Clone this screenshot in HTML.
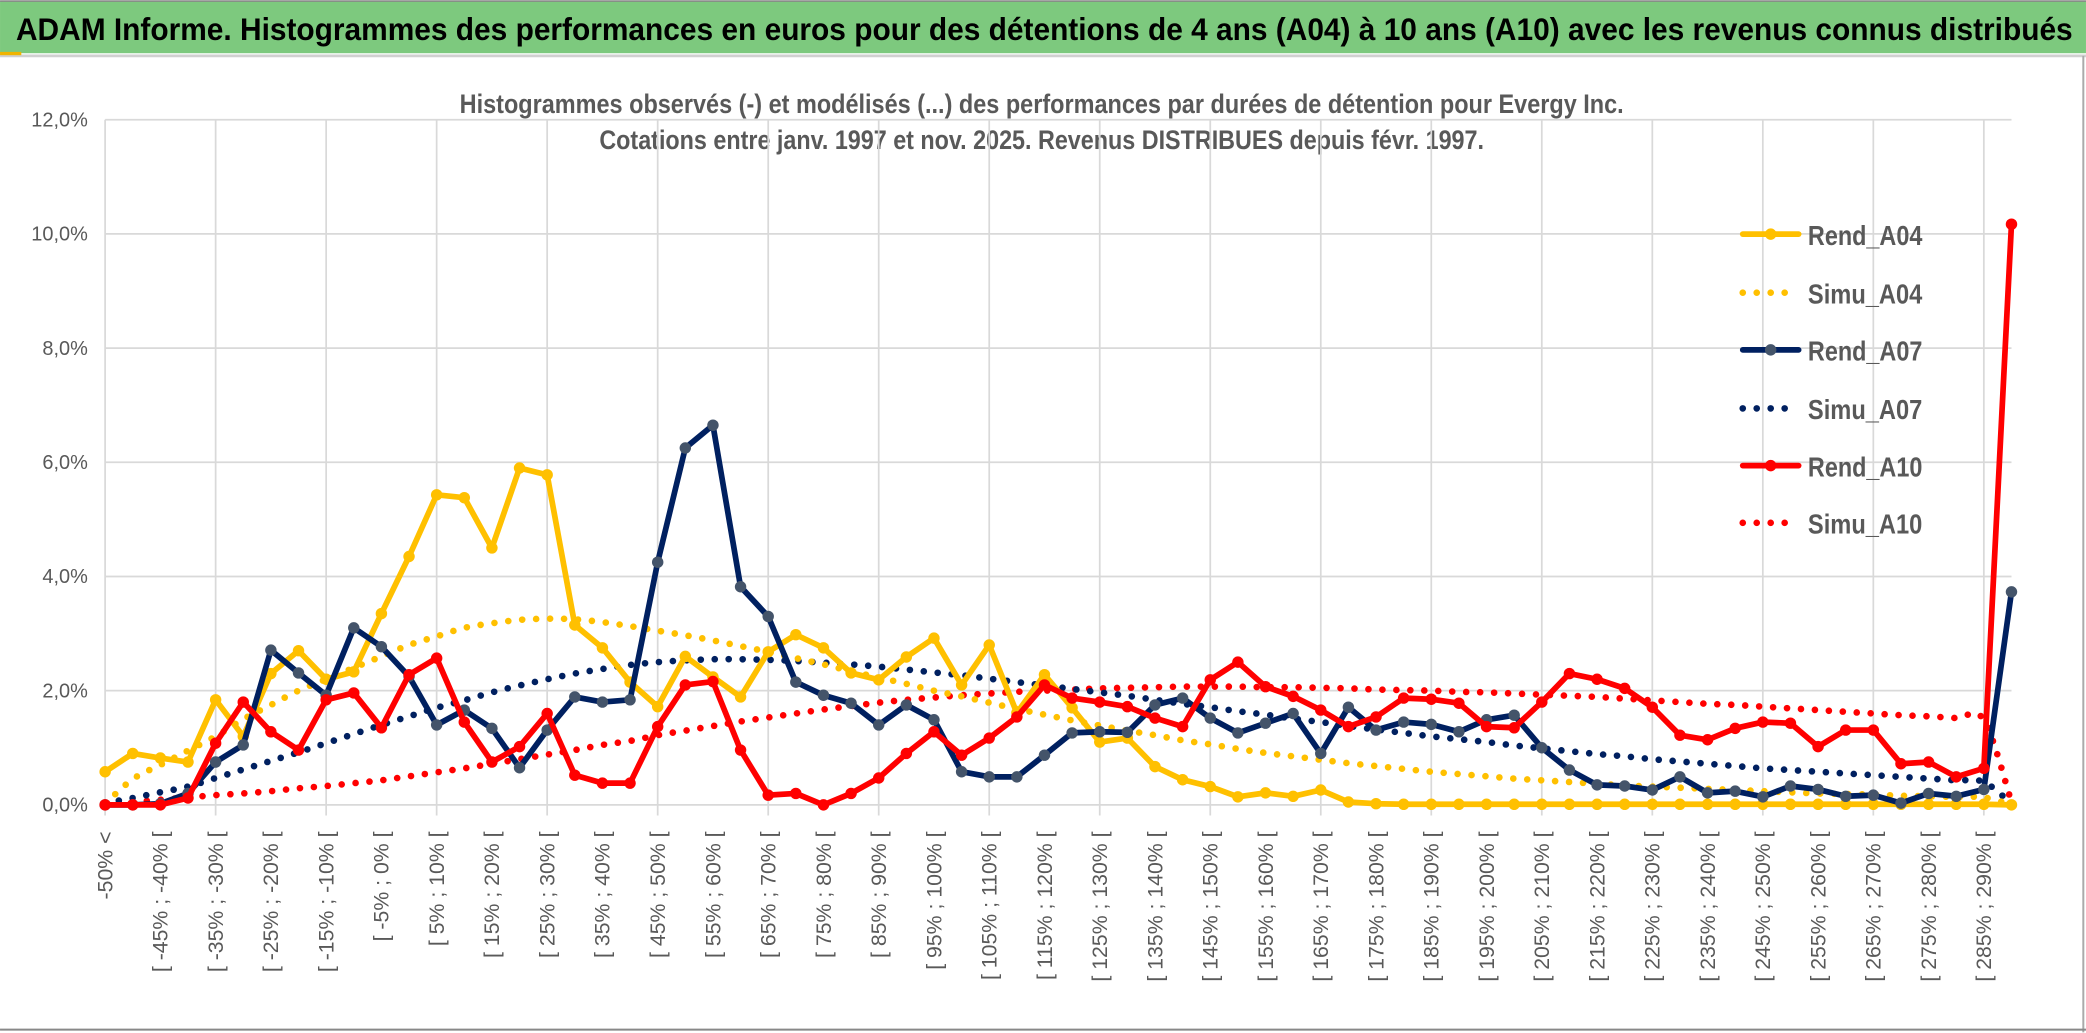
<!DOCTYPE html>
<html><head><meta charset="utf-8">
<style>
html,body{margin:0;padding:0;background:#fff;width:2086px;height:1033px;overflow:hidden}
svg{display:block}
text{font-family:"Liberation Sans",sans-serif}
</style></head>
<body>
<svg id="chart" width="2086" height="1033" viewBox="0 0 1568 776.5" xmlns="http://www.w3.org/2000/svg">
  <rect x="0" y="0" width="1568" height="776.5" fill="#fff"/>
  <rect x="0" y="1" width="1568" height="39" fill="#7dc97e"/>
  <line x1="0" y1="0.8" x2="1568" y2="0.8" stroke="#888" stroke-width="1.2"/>
  <line x1="0" y1="42" x2="1568" y2="42" stroke="#d0d0d0" stroke-width="2"/>
  <rect x="0" y="39" width="16" height="2.5" fill="#f0b400"/>
  <text x="12" y="30" font-size="24" font-weight="bold" fill="#000" textLength="1546" lengthAdjust="spacingAndGlyphs">ADAM Informe. Histogrammes des performances en euros pour des détentions de 4 ans (A04) à 10 ans (A10) avec les revenus connus distribués</text>
  <line x1="1566" y1="42" x2="1566" y2="776" stroke="#aaa" stroke-width="1.5"/>
  <line x1="0" y1="774" x2="1568" y2="774" stroke="#888" stroke-width="1.5"/>
  <text x="783" y="85" font-size="20" font-weight="bold" fill="#595959" text-anchor="middle" textLength="875" lengthAdjust="spacingAndGlyphs">Histogrammes observés (-) et modélisés (...) des performances par durées de détention pour Evergy Inc.</text>
  <text x="783" y="112" font-size="20" font-weight="bold" fill="#595959" text-anchor="middle" textLength="665" lengthAdjust="spacingAndGlyphs">Cotations entre janv. 1997 et nov. 2025. Revenus DISTRIBUES depuis févr. 1997.</text>
  <g id="grid"></g>
  <g id="yaxis"></g>
  <g id="xaxis"></g>
  <g id="series"></g>
  <g id="legend"></g>
</svg>
<script>
const categories = ["-50% <"];
for (let a = -50; a < 295; a += 5) categories.push("[ " + a + "% ; " + (a + 5) + "% [");
const yTicks = [0, 2, 4, 6, 8, 10, 12];
const yTickLabels = ["0,0%", "2,0%", "4,0%", "6,0%", "8,0%", "10,0%", "12,0%"];

const rendA04 = [0.58,0.9,0.82,0.75,1.84,1.2,2.3,2.7,2.2,2.33,3.35,4.35,5.43,5.38,4.5,5.9,5.78,3.15,2.75,2.15,1.72,2.6,2.24,1.89,2.68,2.98,2.75,2.31,2.19,2.59,2.92,2.1,2.8,1.61,2.28,1.7,1.1,1.17,0.67,0.44,0.32,0.14,0.21,0.15,0.26,0.05,0.02,0.01,0.01,0.01,0.01,0.01,0.01,0.01,0.01,0.01,0.01,0.01,0.01,0.01,0.01,0.01,0.01,0.01,0.01,0.01,0.01,0.01,0.01,0.0];
const simuA04 = [0.02,0.45,0.7,0.95,1.2,1.5,1.75,2.0,2.2,2.4,2.6,2.8,2.95,3.1,3.18,3.24,3.26,3.25,3.2,3.13,3.05,2.97,2.88,2.78,2.68,2.57,2.46,2.34,2.23,2.12,2.0,1.9,1.79,1.68,1.58,1.48,1.39,1.3,1.22,1.13,1.06,0.98,0.91,0.85,0.79,0.73,0.68,0.63,0.58,0.54,0.5,0.46,0.43,0.4,0.37,0.34,0.32,0.3,0.28,0.26,0.24,0.22,0.2,0.19,0.18,0.16,0.15,0.14,0.13,0.0];
const rendA07 = [0,0,0.02,0.2,0.75,1.05,2.71,2.31,1.92,3.1,2.77,2.25,1.4,1.66,1.34,0.65,1.31,1.89,1.8,1.84,4.25,6.25,6.65,3.82,3.3,2.15,1.92,1.78,1.4,1.75,1.49,0.58,0.49,0.49,0.87,1.26,1.28,1.27,1.75,1.87,1.52,1.26,1.43,1.6,0.9,1.71,1.31,1.45,1.41,1.28,1.49,1.57,1.0,0.61,0.35,0.33,0.26,0.49,0.21,0.24,0.14,0.33,0.27,0.15,0.17,0.03,0.2,0.15,0.27,3.73];
const simuA07 = [0.03,0.12,0.22,0.32,0.47,0.62,0.77,0.92,1.08,1.24,1.4,1.55,1.7,1.83,1.97,2.09,2.2,2.3,2.38,2.45,2.5,2.53,2.55,2.55,2.54,2.52,2.49,2.46,2.42,2.37,2.32,2.27,2.21,2.15,2.09,2.03,1.97,1.91,1.84,1.77,1.71,1.64,1.58,1.51,1.45,1.38,1.32,1.26,1.2,1.15,1.1,1.04,0.99,0.94,0.89,0.85,0.8,0.76,0.72,0.68,0.64,0.61,0.58,0.55,0.52,0.49,0.46,0.43,0.4,0.02];
const rendA10 = [0,0,0,0.12,1.08,1.8,1.28,0.96,1.84,1.96,1.35,2.28,2.57,1.45,0.75,1.02,1.6,0.52,0.38,0.38,1.37,2.1,2.16,0.96,0.17,0.2,0.0,0.2,0.47,0.9,1.28,0.87,1.17,1.54,2.1,1.87,1.8,1.72,1.52,1.37,2.19,2.5,2.07,1.9,1.66,1.37,1.54,1.87,1.85,1.78,1.37,1.35,1.8,2.3,2.2,2.04,1.71,1.22,1.14,1.34,1.45,1.43,1.02,1.31,1.31,0.72,0.75,0.49,0.64,10.17];
const simuA10 = [0.0,0.05,0.09,0.13,0.17,0.2,0.24,0.29,0.33,0.38,0.43,0.5,0.57,0.64,0.72,0.8,0.88,0.96,1.05,1.12,1.22,1.3,1.38,1.46,1.53,1.6,1.67,1.73,1.79,1.84,1.88,1.92,1.95,1.98,2.0,2.02,2.04,2.05,2.06,2.07,2.07,2.07,2.06,2.06,2.05,2.04,2.02,2.01,2.0,1.98,1.97,1.95,1.93,1.91,1.89,1.86,1.83,1.8,1.77,1.75,1.72,1.69,1.66,1.63,1.6,1.57,1.55,1.52,1.49,0.05];

const seriesNames = ["Rend_A04","Simu_A04","Rend_A07","Simu_A07","Rend_A10","Simu_A10"];

const NS = "http://www.w3.org/2000/svg";
const X0 = 79, X1 = 1512, Y0 = 605, Y1 = 90, YMAX = 12;
function xPos(i){ return X0 + (X1 - X0) * i / (categories.length - 1); }
function yPos(v){ return Y0 - (Y0 - Y1) * v / YMAX; }
function mk(tag, attrs, parent){
  const e = document.createElementNS(NS, tag);
  for (const k in attrs) e.setAttribute(k, attrs[k]);
  parent.appendChild(e); return e;
}
const grid = document.getElementById("grid");
const yaxis = document.getElementById("yaxis");
const xaxis = document.getElementById("xaxis");
const series = document.getElementById("series");
const legend = document.getElementById("legend");

yTicks.forEach((t, k) => {
  const l = mk("line", {x1: X0, x2: X1, y1: yPos(t), y2: yPos(t), stroke: "#d9d9d9", "stroke-width": 1.3}, grid);
  
  
  const tx = mk("text", {x: 66, y: yPos(t) + 5, "font-size": 15, fill: "#595959", "text-anchor": "end"}, yaxis);
  tx.textContent = yTickLabels[k];
  
  
});
for (let i = 0; i < categories.length; i += 4) {
  const l = mk("line", {x1: xPos(i), x2: xPos(i), y1: Y1, y2: Y0 + 8, stroke: "#d9d9d9", "stroke-width": 1.3}, grid);
  
  
}
categories.forEach((c, i) => {
  if (i !== 0 && i % 2 === 1) return;
  const x = xPos(i) + 5.5, y = 625;
  const tx = mk("text", {x: x, y: y, "font-size": 16, fill: "#595959", "text-anchor": "end", transform: "rotate(-90 " + x + " " + y + ")"}, xaxis);
  tx.textContent = c;
  
  
});

function pathD(arr){ return arr.map((v, i) => (i ? "L" : "M") + xPos(i).toFixed(2) + " " + yPos(v).toFixed(2)).join(" "); }
function smoothD(arr){
  const p = arr.map((v, i) => [xPos(i), yPos(v)]);
  let d = "M" + p[0][0] + " " + p[0][1];
  for (let i = 0; i < p.length - 1; i++) {
    const p0 = p[Math.max(0, i - 1)], p1 = p[i], p2 = p[i + 1], p3 = p[Math.min(p.length - 1, i + 2)];
    const c1 = [p1[0] + (p2[0] - p0[0]) / 6, p1[1] + (p2[1] - p0[1]) / 6];
    const c2 = [p2[0] - (p3[0] - p1[0]) / 6, p2[1] - (p3[1] - p1[1]) / 6];
    d += " C" + c1[0].toFixed(2) + " " + c1[1].toFixed(2) + " " + c2[0].toFixed(2) + " " + c2[1].toFixed(2) + " " + p2[0].toFixed(2) + " " + p2[1].toFixed(2);
  }
  return d;
}
function drawSimu(arr, color, name){
  const p = mk("path", {d: smoothD(arr), fill: "none", stroke: color, "stroke-width": 5, "stroke-linecap": "round", "stroke-dasharray": "0 10.5"}, series);
  
  
}
function drawRend(arr, color, mcolor, name){
  const p = mk("path", {d: pathD(arr), fill: "none", stroke: color, "stroke-width": 4.3, "stroke-linejoin": "round"}, series);
  
  
  arr.forEach((v, i) => {
    const c = mk("circle", {cx: xPos(i), cy: yPos(v), r: 4.3, fill: mcolor}, series);
    
    
  });
}
drawSimu(simuA10, "#ff0000", "simu-a10-line");
drawSimu(simuA07, "#002060", "simu-a07-line");
drawSimu(simuA04, "#ffc000", "simu-a04-line");
drawRend(rendA04, "#ffc000", "#ffc000", "rend-a04-line");
drawRend(rendA07, "#002060", "#44546a", "rend-a07-line");
drawRend(rendA10, "#ff0000", "#ff0000", "rend-a10-line");

const legColors = ["#ffc000","#ffc000","#002060","#002060","#ff0000","#ff0000"];
const legMarker = ["#ffc000",null,"#44546a",null,"#ff0000",null];
const legY = [176,220,263,307,350,393];
seriesNames.forEach((n, k) => {
  const g = mk("g", {}, legend);
  
  
  const y = legY[k];
  if (legMarker[k]) {
    mk("line", {x1: 1310, x2: 1352, y1: y, y2: y, stroke: legColors[k], "stroke-width": 4.3, "stroke-linecap": "round"}, g);
    mk("circle", {cx: 1331, cy: y, r: 4.3, fill: legMarker[k]}, g);
  } else {
    mk("line", {x1: 1310, x2: 1352, y1: y, y2: y, stroke: legColors[k], "stroke-width": 5, "stroke-linecap": "round", "stroke-dasharray": "0 10.5"}, g);
  }
  const t = mk("text", {x: 1359, y: y + 8, "font-size": 21, "font-weight": "bold", fill: "#595959", textLength: 86, lengthAdjust: "spacingAndGlyphs"}, g);
  t.textContent = n;
});
</script>
</body></html>
